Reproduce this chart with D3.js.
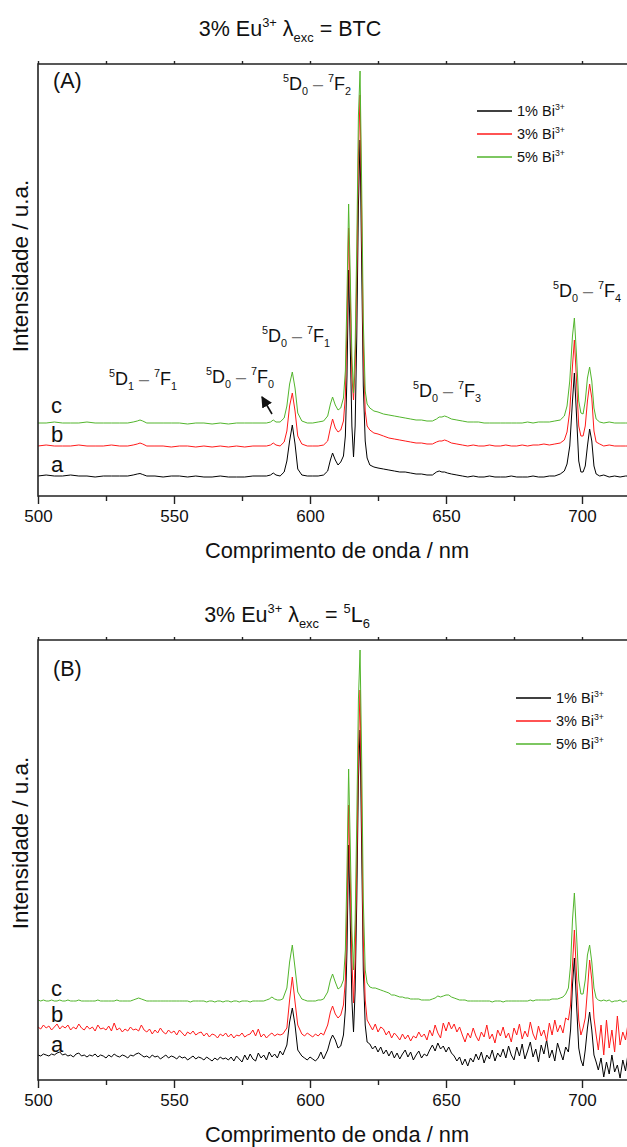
<!DOCTYPE html>
<html><head><meta charset="utf-8">
<script src="https://cdnjs.cloudflare.com/ajax/libs/d3/7.8.5/d3.min.js"></script>
<style>body{margin:0;background:#fff;} svg{display:block;} text{font-family:"Liberation Sans",Arial,sans-serif;white-space:pre;fill:#111;}</style>
</head><body><svg id="c" width="627" height="1147"></svg>
<script>
// ---------- DATA ----------
const xTicksMajor = [500, 550, 600, 650, 700];
const xTicksMinor = [525, 575, 625, 675];
const seriesNames = ["1% Bi", "3% Bi", "5% Bi"];
const seriesColors = ["#000000", "#ff1a1a", "#52b52c"];
const curveLetters = ["a", "b", "c"];

// Panel A wavelengths (nm)
const wlA = [500,503,506,509,512,515,518,521,524,527,530,533,535,536.5,537.5,538.5,540,543,546,549,552,555,558,561,564,567,570,573,576,579,582,584,585.5,586.5,587.5,589,590.5,591.5,592.5,593.5,594.5,595.5,597,599,601,603,605,606.5,607.5,608.3,609.3,610.3,611.3,612.3,613,613.6,614.2,614.8,615.4,616,616.6,617.2,617.8,618.4,619,619.6,620.3,621,622,623.5,625,627,629,631,633,635,637,639,641,643,645,646.5,647.5,648.5,649.5,650.5,652,654,656,658,660,662,664,666,668,670,672,674,676,678,680,682,684,686,688,690,692,693.5,694.5,695.5,696.5,697.2,698,698.8,699.6,700.4,701.2,702,702.8,703.6,704.4,705.2,706.5,708,710,712,714,716,718];
// Panel A intensities (u.a.)
const aA = [20,21,20,20,21,20,20,19,20,20,20,20,21,22,22.5,21.5,20,20,19,20,20,19,20,19,19,20,19,19,19,20,20,20,21,23,21,20,24,35,55,71,52,27,21,20,20,20,21,25,36,43,36,31,34,40,60,120,226,150,70,39,70,160,290,356,230,110,55,38,31,29,28,27,26,25,24,24,23,22,22,21,21,24,25,24,24,23,22,21,20,19,20,19,19,20,19,19,19,20,19,19,19,20,19,19,20,20,22,25,32,50,95,123,80,35,24,24,30,50,67,55,30,22,20,21,19,20,19,20,20];
const bA = [50,51,50,50,50,51,50,50,50,51,50,50,51,52,53,52,50,50,50,49,50,50,49,50,49,50,49,50,49,50,50,50,51,53,51,50,54,65,90,103,85,60,52,50,50,50,51,55,68,77,68,64,66,75,100,170,268,200,120,96,130,220,340,401,280,150,85,70,66,63,62,60,58,57,56,55,54,53,53,52,52,54,55,55,56,55,53,52,51,50,51,50,50,51,50,50,51,50,50,51,50,51,51,52,51,52,53,56,64,85,130,156,115,70,60,60,70,95,112,98,65,54,52,50,51,50,50,50,50];
const cA = [73,73,74,73,73,73,74,73,73,73,73,73,74,75,76,75,73,73,73,73,73,72,73,73,72,73,72,73,73,73,73,73,74,76,74,74,78,90,112,124,108,83,75,73,73,74,75,80,92,99,91,86,88,98,125,200,292,220,140,103,150,250,380,425,310,175,105,92,88,85,84,82,81,80,79,78,77,76,76,75,75,77,79,79,80,79,77,76,75,74,74,74,73,73,73,73,73,73,73,73,74,73,74,74,74,75,76,80,90,115,160,178,140,95,83,82,95,118,129,115,88,77,74,73,74,73,73,73,73];

// Panel B wavelengths (nm)
const wlB = [500,501,502,503,504,505,506,507,508,509,510,511,512,513,514,515,516,517,518,519,520,521,522,523,524,525,526,527,528,529,530,531,532,533,534,535,536,537,538,539,540,541,542,543,544,545,546,547,548,549,550,551,552,553,554,555,556,557,558,559,560,561,562,563,564,565,566,567,568,569,570,571,572,573,574,575,576,577,578,579,580,581,582,583,584,585,586,587,588,589,590,
591.5,592.5,593.5,594.5,595.5,
597,598,599,600,601,602,603,604,605,
606.5,607.5,608.3,609.3,610.3,611.3,612.3,613,613.6,614.2,614.8,615.4,616,616.6,617.2,617.8,618.4,619,619.6,620.3,621,
622,623,624,625,626,627,628,629,630,631,632,633,634,635,636,637,638,639,640,641,642,643,644,645,646,647,648,649,650,651,652,653,654,655,656,657,658,659,660,661,662,663,664,665,666,667,668,669,670,671,672,673,674,675,676,677,678,679,680,681,682,683,684,685,686,687,688,689,690,691,692,693,694,
695,695.8,696.5,697.2,698,698.8,699.6,700.4,701.2,702,702.8,703.6,704.4,705.2,
706,707,708,709,710,711,712,713,714,715,716,717,718];
// Panel B intensities (u.a.)
const aB = [25,24,26,25,24,26,25,27,28,25, 26,24,25,23,26,27,24,25,23,25, 24,26,23,25,24,22,25,23,26,24, 23,25,24,22,25,24,26,27,25,23, 24,22,25,23,24,21,23,25,22,24, 23,21,24,22,23,20,22,24,21,23, 22,20,23,21,19,22,20,23,21,22, 20,23,19,24,21,18,25,20,26,21, 19,27,22,25,20,28,23,26,22,29, 25,
35,58,72,55,30,
24,22,20,23,21,19,22,28,21,
30,40,45,40,32,34,45,70,130,235,160,80,48,90,180,300,350,230,110,55,38,
36,31,34,28,33,26,30,24,29,22, 27,21,26,30,23,28,20,25,29,22, 26,24,30,35,29,37,31,34,28,33, 27,24,19,23,15,21,14,22,18,26, 20,28,17,25,21,30,19,27,23,31, 22,34,25,20,33,24,36,21,29,38, 23,31,18,35,26,40,22,30,19,37, 28,20,33,
28,50,95,122,75,32,20,14,30,52,68,50,25,18,
10,22,3,18,6,25,8,15,2,20,9,28,12];
const bB = [53,51,55,52,54,50,53,56,51,54, 52,55,50,53,51,56,52,50,54,51, 53,49,55,51,52,50,54,49,57,50, 52,48,51,49,53,50,51,49,55,50, 48,51,46,50,47,52,48,46,50,47, 49,45,50,47,44,48,46,49,45,47, 48,44,47,43,46,45,42,46,44,47, 43,46,42,45,44,47,43,45,46,50, 44,51,43,46,42,45,47,44,46,45, 46,
52,80,103,78,55,
46,44,47,45,43,46,44,47,45,
55,68,74,66,62,65,75,100,170,275,200,120,77,120,220,330,390,270,140,80,60,
55,50,56,48,53,51,45,49,42,47, 44,40,46,41,45,39,44,42,48,43, 46,40,50,44,55,47,42,57,49,58, 51,56,48,53,45,38,47,42,52,44, 39,48,43,55,41,46,37,50,44,53, 42,47,38,52,45,56,41,49,43,58, 46,40,54,44,50,39,57,45,60,48, 55,47,62,
60,75,115,150,105,60,45,52,62,90,120,100,62,45,
30,55,25,60,32,50,28,64,35,48,40,58,44];
const cB = [80,79,80,79,79,80,79,79,80,79, 79,80,79,79,79,80,79,79,79,79, 79,79,80,79,79,79,79,79,79,80, 79,79,79,79,79,80,81,82,81,80, 79,79,79,79,79,79,79,79,79,79, 79,79,79,79,79,79,78,79,79,79, 79,79,78,79,79,78,79,79,78,79, 79,78,79,79,78,79,79,79,78,79, 79,79,79,79,80,81,83,81,80,80, 81,
92,118,135,112,88,
81,80,79,79,79,79,80,80,81,
88,100,106,98,91,93,100,130,210,311,235,150,110,160,260,380,430,320,180,110,97,
93,92,92,91,90,89,88,87,85,85, 84,83,83,82,82,81,81,81,81,80, 80,80,80,81,82,84,83,84,85,85, 83,82,81,80,80,80,79,79,79,79, 79,79,79,79,79,78,79,79,79,78, 79,79,79,79,79,79,79,79,79,80, 79,80,80,80,80,80,80,81,81,81, 82,83,86,
92,115,160,187,145,100,86,86,100,125,135,118,92,82,
80,79,80,79,80,78,79,79,80,78,79,79,78];

// ---------- CHECK ----------
[aA,bA,cA].forEach((s,i)=>{ if(s.length!==wlA.length) throw new Error("A series "+i+" len "+s.length+" vs "+wlA.length); });
[aB,bB,cB].forEach((s,i)=>{ if(s.length!==wlB.length) throw new Error("B series "+i+" len "+s.length+" vs "+wlB.length); });

// ---------- DRAW ----------
const svg = d3.select("#c");
const FONT = '"Liberation Sans", Arial, sans-serif';

function rich(sel, x, y, parts, size, anchor) {
  const t = sel.append("text").attr("x", x).attr("y", y)
    .attr("font-size", size).attr("text-anchor", anchor || "start");
  let cur = 0;
  parts.forEach(p => {
    let target = 0, fs = size;
    if (p.s === "sup") { target = -0.42 * size; fs = 0.6 * size; }
    else if (p.s === "sub") { target = 0.3 * size; fs = 0.6 * size; }
    const ts = t.append("tspan").attr("dy", target - cur).attr("font-size", fs).text(p.t);
    if (p.fill) ts.style("fill", p.fill);
    cur = target;
  });
  return t;
}
const dash = { t: " \u2013 ", fill: "#777" };
function term(u, L, l, v, R, r) {
  return [{ t: u, s: "sup" }, { t: L }, { t: l, s: "sub" }, dash, { t: v, s: "sup" }, { t: R }, { t: r, s: "sub" }];
}

function panel(cfg) {
  const x = d3.scaleLinear().domain([500, 720]).range([38, 636.4]);
  const y = d3.scaleLinear().domain([0, cfg.ymax]).range([cfg.bottom, cfg.top]);
  const g = svg.append("g");
  const clipId = "clip" + cfg.id;
  svg.append("clipPath").attr("id", clipId).append("rect")
    .attr("x", 38).attr("y", cfg.top).attr("width", 600).attr("height", cfg.bottom - cfg.top);

  // curves
  const line = d3.line().x(d => x(d[0])).y(d => y(d[1]));
  cfg.series.forEach((s, i) => {
    g.append("path").attr("clip-path", `url(#${clipId})`)
      .datum(cfg.wl.map((w, k) => [w, s[k]]))
      .attr("fill", "none").attr("stroke", seriesColors[i]).attr("stroke-width", 1)
      .attr("stroke-linejoin", "round").attr("d", line);
  });

  // frame
  g.append("path").attr("fill", "none").attr("stroke", "#222").attr("stroke-width", 1.6)
    .attr("d", `M640,${cfg.top}H38V${cfg.bottom}H640`);

  // axes
  const axMaj = g.append("g").attr("transform", `translate(0,${cfg.bottom})`)
    .call(d3.axisBottom(x).tickValues(xTicksMajor).tickSize(8).tickPadding(6).tickFormat(d3.format("d")));
  const axMin = g.append("g").attr("transform", `translate(0,${cfg.bottom})`)
    .call(d3.axisBottom(x).tickValues(xTicksMinor).tickSize(5).tickFormat(""));
  const axTop = g.append("g").attr("transform", `translate(0,${cfg.top})`)
    .call(d3.axisTop(x).tickValues(xTicksMajor.concat(xTicksMinor)).tickSize(3).tickFormat(""));
  [axMaj, axMin, axTop].forEach(a => {
    a.select(".domain").remove();
    a.selectAll("line").attr("stroke", "#222").attr("stroke-width", 1.4);
    a.selectAll("text").attr("font-size", 17).attr("font-family", FONT).style("fill", "#111");
  });

  // axis titles
  g.append("text").attr("x", 337).attr("y", cfg.bottom + 62).attr("text-anchor", "middle")
    .attr("font-size", 21.8).text("Comprimento de onda / nm");
  g.append("text").attr("transform", `translate(28,${cfg.ylabelY}) rotate(-90)`)
    .attr("text-anchor", "middle").attr("font-size", 22.5).text("Intensidade / u.a.");

  // title
  rich(g, cfg.titleX, cfg.titleY, cfg.title, 21.5, "middle");
  // panel letter
  g.append("text").attr("x", 53).attr("y", cfg.letterY).attr("font-size", 21.5).text(cfg.letter);

  // curve letters
  cfg.letterYs.forEach((ly, i) => {
    g.append("text").attr("x", 51).attr("y", ly).attr("font-size", 22).text(curveLetters[i]);
  });

  // legend
  seriesNames.forEach((n, i) => {
    const ly = cfg.legY + i * 23;
    g.append("line").attr("x1", cfg.legX).attr("x2", cfg.legX + 35).attr("y1", ly).attr("y2", ly)
      .attr("stroke", seriesColors[i]).attr("stroke-width", 1.3);
    rich(g, cfg.legX + 40, ly + 5, [{ t: n }, { t: "3+", s: "sup" }], 14.5, "start");
  });
  return g;
}

const gA = panel({
  id: "A", top: 64, bottom: 496, ymax: 432, wl: wlA, series: [aA, bA, cA],
  title: [{ t: "3% Eu" }, { t: "3+", s: "sup" }, { t: " \u03bb" }, { t: "exc", s: "sub" }, { t: " = BTC" }],
  titleX: 290, titleY: 36, letter: "(A)", letterY: 88, letterYs: [472, 442, 413], legX: 477, legY: 111,
  ylabelY: 266
});
// annotations A
rich(gA, 283, 90, term("5", "D", "0", "7", "F", "2"), 18);
rich(gA, 553, 297, term("5", "D", "0", "7", "F", "4"), 18);
rich(gA, 262, 342, term("5", "D", "0", "7", "F", "1"), 18);
rich(gA, 206, 383, term("5", "D", "0", "7", "F", "0"), 18);
rich(gA, 109, 385, term("5", "D", "1", "7", "F", "1"), 18);
rich(gA, 413, 397, term("5", "D", "0", "7", "F", "3"), 18);
// arrow
svg.append("defs").append("marker").attr("id", "ah").attr("viewBox", "0 0 10 10").attr("refX", 9).attr("refY", 5)
  .attr("markerWidth", 7).attr("markerHeight", 7).attr("orient", "auto")
  .append("path").attr("d", "M0,0L10,5L0,10Z").attr("fill", "#111");
gA.append("line").attr("x1", 272).attr("y1", 414).attr("x2", 262).attr("y2", 397)
  .attr("stroke", "#111").attr("stroke-width", 1.6).attr("marker-end", "url(#ah)");

const gB = panel({
  id: "B", top: 640, bottom: 1080, ymax: 440, wl: wlB, series: [aB, bB, cB],
  title: [{ t: "3% Eu" }, { t: "3+", s: "sup" }, { t: " \u03bb" }, { t: "exc", s: "sub" }, { t: " = " }, { t: "5", s: "sup" }, { t: "L" }, { t: "6", s: "sub" }],
  titleX: 287, titleY: 622, letter: "(B)", letterY: 676, letterYs: [1052, 1022, 996], legX: 516, legY: 698,
  ylabelY: 843
});
</script></body></html>
